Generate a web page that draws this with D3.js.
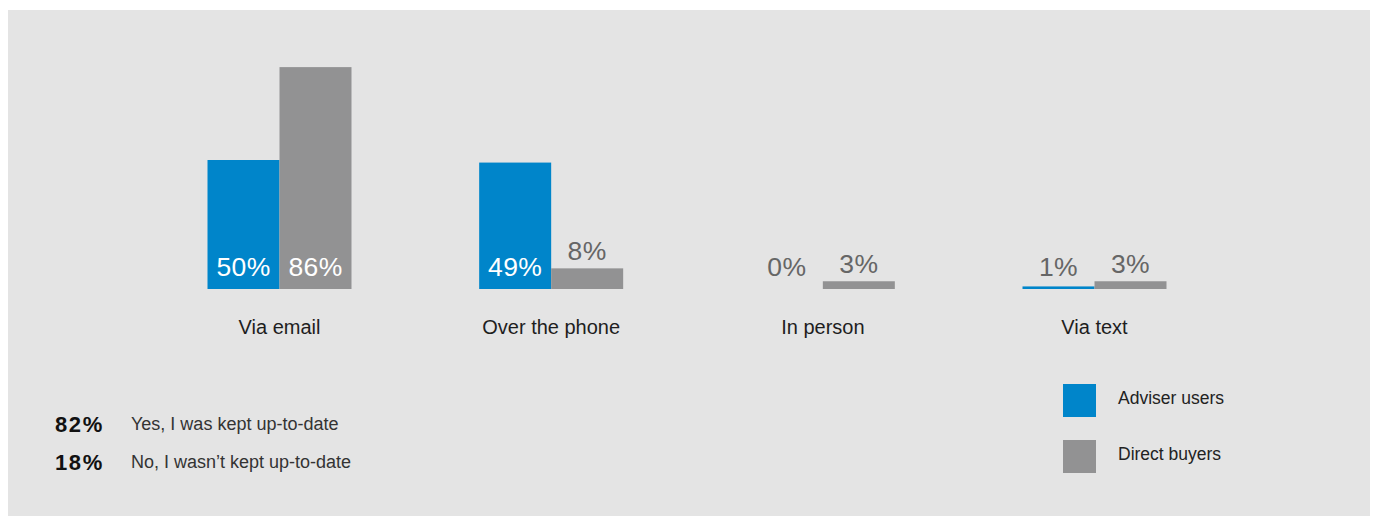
<!DOCTYPE html>
<html>
<head>
<meta charset="utf-8">
<script src="https://cdn.jsdelivr.net/npm/d3@7"></script>
<style>
  html, body { margin: 0; padding: 0; background: #ffffff; }
  svg { display: block; }
  text { font-family: "Liberation Sans", Arial, Helvetica, sans-serif; }
</style>
</head>
<body>
<svg id="chart" width="1377" height="516"></svg>
<script>
// How people were kept informed, by channel
const categories = ["Via email", "Over the phone", "In person", "Via text"];
const seriesNames = ["Adviser users", "Direct buyers"];
const adviserUsers = [50, 49, 0, 1];
const directBuyers = [86, 8, 3, 3];
const seriesColors = ["#0085ca", "#929293"];

// Overall "kept up-to-date" answers
const summaryValues = [82, 18];
const summaryLabels = ["Yes, I was kept up-to-date", "No, I wasn\u2019t kept up-to-date"];

const svg = d3.select("#chart");
const W = 1377, H = 516;

// grey panel
svg.append("rect")
  .attr("x", 8).attr("y", 10)
  .attr("width", W - 15).attr("height", H - 10)
  .attr("fill", "#e4e4e4");

const baseY = 289;
const y = d3.scaleLinear().domain([0, 100]).range([baseY, baseY - 258]);

const x = d3.scalePoint().domain(categories).range([279.5, 1094.5]);
const barW = 72;
const xs = d3.scaleBand().domain(seriesNames).range([-barW, barW]).padding(0);

const rows = categories.map((c, i) => ({
  category: c,
  values: [
    { series: seriesNames[0], value: adviserUsers[i] },
    { series: seriesNames[1], value: directBuyers[i] }
  ]
}));

const groups = svg.append("g").selectAll("g.group")
  .data(rows).join("g")
  .attr("class", "group")
  .attr("transform", d => `translate(${x(d.category)},0)`);

groups.selectAll("rect.bar")
  .data(d => d.values).join("rect")
  .attr("class", "bar")
  .attr("x", d => xs(d.series))
  .attr("y", d => y(d.value))
  .attr("width", xs.bandwidth())
  .attr("height", d => baseY - y(d.value))
  .attr("fill", d => seriesColors[seriesNames.indexOf(d.series)]);

// value labels: inside tall bars, above short ones
const isInside = d => (baseY - y(d.value)) >= 40;
groups.selectAll("text.val")
  .data(d => d.values).join("text")
  .attr("class", "val")
  .attr("x", d => xs(d.series) + xs.bandwidth() / 2)
  .attr("y", d => isInside(d) ? baseY - 13 : Math.min(baseY - 13, y(d.value) - 8))
  .attr("text-anchor", "middle")
  .attr("font-size", 26.5)
  .attr("letter-spacing", 0.4)
  .attr("fill", d => isInside(d) ? "#ffffff" : "#666666")
  .text(d => d.value + "%");

// category labels
groups.append("text")
  .attr("x", 0)
  .attr("y", 334)
  .attr("text-anchor", "middle")
  .attr("font-size", 20)
  .attr("fill", "#1e1e1e")
  .text(d => d.category);

// summary block, bottom left
const summary = svg.append("g").selectAll("g")
  .data(summaryValues.map((v, i) => ({ v, label: summaryLabels[i] })))
  .join("g")
  .attr("transform", (d, i) => `translate(0,${i * 38})`);

summary.append("text")
  .attr("x", 55).attr("y", 432)
  .attr("font-size", 22)
  .attr("font-weight", "bold")
  .attr("letter-spacing", 1.6)
  .attr("fill", "#111111")
  .text(d => d.v + "%");

summary.append("text")
  .attr("x", 131).attr("y", 429.5)
  .attr("font-size", 18)
  .attr("fill", "#333333")
  .text(d => d.label);

// legend, bottom right
const legend = svg.append("g").selectAll("g")
  .data(seriesNames).join("g")
  .attr("transform", (d, i) => `translate(1063,${384 + i * 56})`);

legend.append("rect")
  .attr("width", 33).attr("height", 33)
  .attr("fill", (d, i) => seriesColors[i]);

legend.append("text")
  .attr("x", 55).attr("y", 20)
  .attr("font-size", 17.5)
  .attr("fill", "#222222")
  .text(d => d);
</script>
</body>
</html>
